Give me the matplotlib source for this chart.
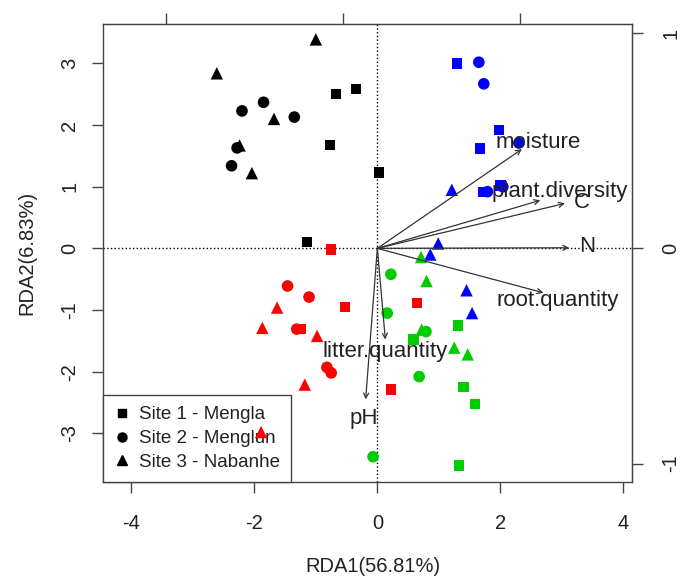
import numpy as np
import matplotlib.pyplot as plt
from matplotlib.lines import Line2D

plt.rcParams['font.family'] = ['Liberation Sans', 'DejaVu Sans']
plt.rcParams['axes.unicode_minus'] = False

# site scores, 5 per colour group: black, blue, red, green
point_colours = ['black'] * 5 + ['#0000ff'] * 5 + ['#ff0000'] * 5 + ['#00cc00'] * 5

site1_x = [-0.67, -0.35, -0.77, 0.03, -1.14,
           1.30, 1.98, 1.67, 1.72, 2.00,
           -0.75, -0.53, -1.25, 0.64, 0.22,
           1.31, 0.59, 1.40, 1.59, 1.33]
site1_y = [2.50, 2.58, 1.68, 1.23, 0.10,
           3.00, 1.92, 1.62, 0.92, 1.02,
           -0.02, -0.95, -1.31, -0.89, -2.29,
           -1.25, -1.48, -2.25, -2.53, -3.52]

site2_x = [-1.85, -2.20, -1.35, -2.28, -2.37,
           1.65, 1.73, 2.30, 1.79, 2.04,
           -1.46, -1.11, -1.31, -0.82, -0.75,
           0.22, 0.16, 0.79, 0.68, -0.07]
site2_y = [2.37, 2.23, 2.13, 1.63, 1.34,
           3.02, 2.67, 1.71, 0.92, 1.00,
           -0.61, -0.79, -1.31, -1.93, -2.02,
           -0.42, -1.05, -1.35, -2.08, -3.38]

site3_x = [-1.00, -2.61, -1.68, -2.24, -2.04,
           1.21, 0.99, 0.86, 1.45, 1.54,
           -1.63, -1.87, -0.98, -1.18, -1.89,
           0.71, 0.80, 0.72, 1.25, 1.47]
site3_y = [3.39, 2.84, 2.10, 1.67, 1.22,
           0.95, 0.08, -0.10, -0.68, -1.05,
           -0.96, -1.29, -1.42, -2.21, -2.98,
           -0.14, -0.53, -1.32, -1.61, -1.72]

site_names = ['Site 1 - Mengla', 'Site 2 - Menglun', 'Site 3 - Nabanhe']

# environmental arrows
env_names = ['moisture', 'plant.diversity', 'C', 'N', 'root.quantity', 'litter.quantity', 'pH']
env_x = [2.35, 2.65, 3.05, 3.12, 2.70, 0.13, -0.19]
env_y = [1.61, 0.78, 0.73, 0.01, -0.72, -1.48, -2.45]
lab_x = [2.61, 2.97, 3.32, 3.41, 2.94, 0.13, -0.22]
lab_y = [1.72, 0.92, 0.75, 0.03, -0.84, -1.67, -2.76]

fig = plt.figure(figsize=(6.84, 5.79), dpi=100)
ax = fig.add_axes([103/684, 1-482/579, 529/684, 458/579])

txt = '#222222'
edge = '#444444'

ax.axhline(0, ls=':', color='black', lw=1, zorder=1)
ax.axvline(0, ls=':', color='black', lw=1, zorder=1)

ax.scatter(site1_x, site1_y, c=point_colours, marker='s', s=55, lw=0, zorder=4)
ax.scatter(site2_x, site2_y, c=point_colours, marker='o', s=70, lw=0, zorder=4)
ax.scatter(site3_x, site3_y, c=point_colours, marker='^', s=80, lw=0, zorder=4)

for i in range(len(env_names)):
    ax.annotate('', xy=(env_x[i], env_y[i]), xytext=(0, 0),
                arrowprops=dict(arrowstyle='->', color='#333333', lw=0.9,
                                shrinkA=0, shrinkB=0, mutation_scale=9),
                zorder=5)
    ax.text(lab_x[i], lab_y[i], env_names[i], fontsize=16, color=txt,
            ha='center', va='center', zorder=6)

ax.set_xlim(-4.46, 4.14)
ax.set_ylim(-3.79, 3.64)
ax.set_xticks([-4, -2, 0, 2, 4])
ax.set_yticks([-3, -2, -1, 0, 1, 2, 3])
ax.tick_params(direction='out', length=8, width=1, color=edge, labelsize=14.5, labelcolor=txt)
ax.tick_params(axis='x', pad=15)
ax.tick_params(axis='y', pad=9)
for lab in ax.get_yticklabels():
    lab.set_rotation(90)
    lab.set_va('center')
for sp in ax.spines.values():
    sp.set_color(edge)
    sp.set_linewidth(1)

ax.set_xlabel('RDA1(56.81%)', fontsize=14.5, color=txt)
ax.set_ylabel('RDA2(6.83%)', fontsize=14.5, color=txt)
ax.xaxis.set_label_coords(0.51, -0.163)
ax.yaxis.set_label_coords(-0.125, 0.5)

# secondary scale for the arrows
sec_r = ax.secondary_yaxis('right', functions=(lambda y: y / 3.49, lambda y: y * 3.49))
sec_r.set_yticks([-1, 0, 1])
sec_r.tick_params(direction='out', length=8, width=1, color=edge, labelsize=14.5,
                  labelcolor=txt, pad=13)
for lab in sec_r.get_yticklabels():
    lab.set_rotation(90)
    lab.set_va('center')
sec_r.spines['right'].set_color(edge)

sec_t = ax.secondary_xaxis('top', functions=(lambda x: (x + 0.56) / 2.88, lambda u: u * 2.88 - 0.56))
sec_t.set_xticks([-1, 0, 1])
sec_t.tick_params(direction='out', length=8, width=1, color=edge, labeltop=False)
sec_t.spines['top'].set_color(edge)

handles = [Line2D([], [], ls='', marker=m, color='black', markersize=ms)
           for m, ms in zip(['s', 'o', '^'], [6, 6.5, 7])]
leg = ax.legend(handles, site_names, loc='lower left', bbox_to_anchor=(0, 0),
                borderaxespad=0, fancybox=False, fontsize=13.5, handlelength=0.8,
                handletextpad=0.5, labelspacing=0.35, borderpad=0.6,
                labelcolor=txt, framealpha=1)
leg.get_frame().set_edgecolor(edge)
leg.get_frame().set_linewidth(1)
leg.set_zorder(3)

fig.savefig('out.png', dpi=100)
